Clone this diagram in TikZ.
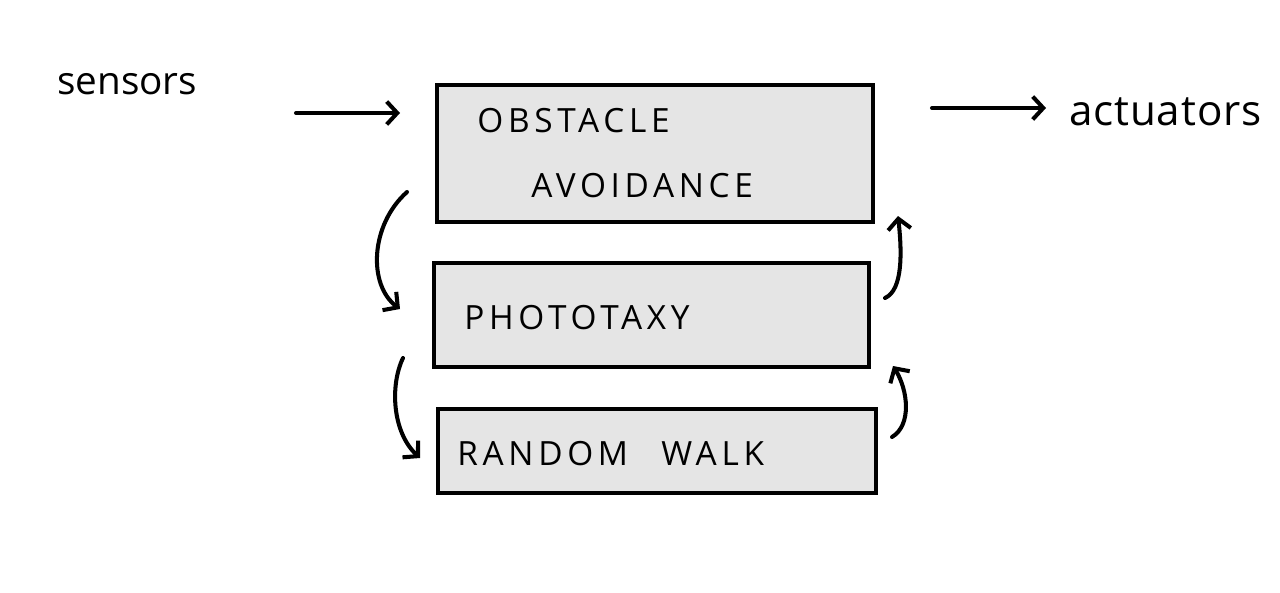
\documentclass[tikz,border=0pt]{standalone}
\usepackage{fontspec}
\setmainfont{Open Sans}
\newfontfamily\handcaps[LetterSpace=14]{Open Sans}
\newfontfamily\handlow{Open Sans}
\newfontfamily\handwide[LetterSpace=2]{Open Sans}
\usetikzlibrary{arrows.meta}
\definecolor{boxgray}{HTML}{E5E5E5}
\tikzset{
  box/.style={draw=black, fill=boxgray, line width=1.8pt, inner sep=0pt},
  lbl/.style={font=\handcaps\fontsize{19}{22}\selectfont, anchor=west, inner sep=0pt},
  word/.style={anchor=west, inner sep=0pt},
  conn/.style={line width=2.3pt, line cap=round, -{Straight Barb[length=6pt,width=13pt,line width=2.3pt]}}
}
\begin{document}
\begin{tikzpicture}[x=0.02cm,y=-0.02cm]
\useasboundingbox (0,0) rectangle (1280,592);
\fill[white] (0,0) rectangle (1280,592);
% boxes
\node[box, minimum width=8.72cm, minimum height=2.74cm] (oa) at (655,153.5) {};
\node[box, minimum width=8.70cm, minimum height=2.08cm] (ph) at (651.5,315) {};
\node[box, minimum width=8.76cm, minimum height=1.68cm] (rw) at (657,451) {};
% box texts
\node[lbl] (t1) at (477,121) {OBSTACLE};
\node[lbl] (t2) at (531,186) {AVOIDANCE};
\node[lbl] (t3) at (464,318) {PHOTOTAXY};
\node[lbl] (t4) at (457,454) {RANDOM\hspace{1.0em}WALK};
% side words
\node[word, font=\handlow\fontsize{22}{26}\selectfont] (sens) at (57,84) {sensors};
\node[word, font=\handwide\fontsize{24}{28}\selectfont] (act) at (1069,112) {actuators};
% connector end points
\coordinate (sin) at (296,113);
\coordinate (sout) at (400,113);
\coordinate (ain) at (932,108);
\coordinate (aout) at (1046,108);
\coordinate (l1a) at (407,192);
\coordinate (l1b) at (400,309);
\coordinate (l2a) at (403,358);
\coordinate (l2b) at (420,458);
\coordinate (r1a) at (885,298);
\coordinate (r1b) at (898,216);
\coordinate (r2a) at (892,437);
\coordinate (r2b) at (893,366);
% connectors
\draw[conn] (sin) -- (sout);
\draw[conn] (ain) -- (aout);
\draw[conn] (l1a) .. controls (370,225) and (368,285) .. (l1b);
\draw[conn] (l2a) .. controls (390,385) and (392,432) .. (l2b);
\draw[conn] (r1a) .. controls (903,290) and (902,252) .. (r1b);
\draw[conn] (r2a) .. controls (912,425) and (908,390) .. (r2b);
\end{tikzpicture}
\end{document}
